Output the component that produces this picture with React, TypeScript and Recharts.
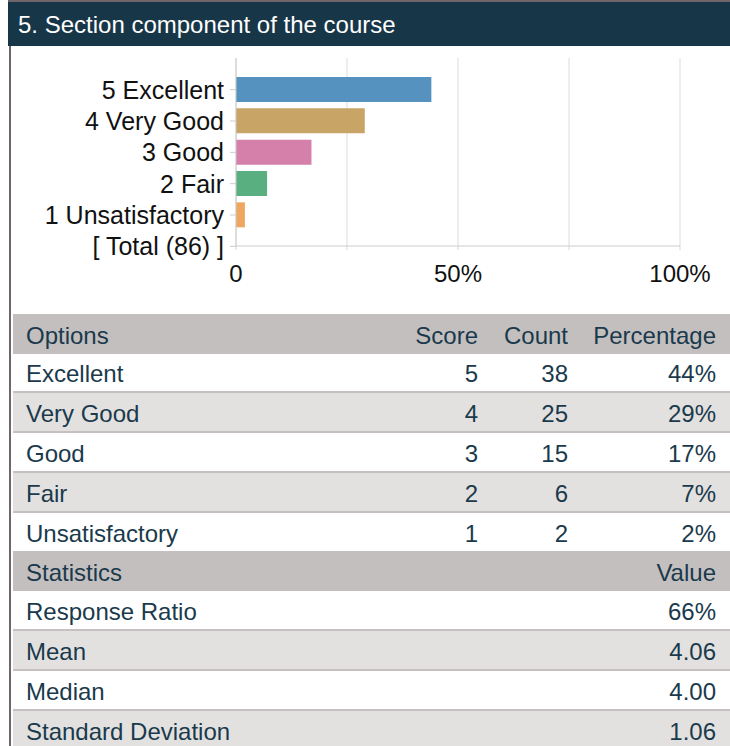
import React from "react";
import { BarChart, Bar, XAxis, YAxis, CartesianGrid, Cell } from "recharts";

const categories = ["5 Excellent", "4 Very Good", "3 Good", "2 Fair", "1 Unsatisfactory", "[ Total (86) ]"];
const percentages: (number | null)[] = [44, 29, 17, 7, 2, null];
const barColors = ["#5592bf", "#c8a566", "#d580ab", "#5aaf80", "#eea660"];
const xTicks = [0, 25, 50, 75, 100];

const options = ["Excellent", "Very Good", "Good", "Fair", "Unsatisfactory"];
const scores = [5, 4, 3, 2, 1];
const counts = [38, 25, 15, 6, 2];
const pctLabels = ["44%", "29%", "17%", "7%", "2%"];
const statNames = ["Response Ratio", "Mean", "Median", "Standard Deviation"];
const statValues = ["66%", "4.06", "4.00", "1.06"];

const FONT = "Arial, 'Liberation Sans', sans-serif";
const TEXT = "#1a3a4c";
const HEAD_BG = "#c4bfbf";
const ALT_BG = "#e3e1e0";

const chartData = categories.map((label, i) => ({ label, pct: percentages[i] }));

const cols = "375px 90px 90px 148px";

// first row after a header is a px shorter, matching the source table
function rowStyle(i: number, head = false, firstH = 38): React.CSSProperties {
  const h = head ? 40 : i === 0 ? firstH : 38;
  return {
    display: "grid",
    gridTemplateColumns: cols,
    paddingRight: 14,
    height: h,
    lineHeight: `${h + 3}px`,
    overflow: "hidden",
    background: head ? HEAD_BG : i % 2 === 1 ? ALT_BG : "#fff",
    borderTop: !head && i > 0 ? "2px solid #c6c0c0" : "none",
  };
}

export default function App() {
  return (
    <div style={{ position: "absolute", left: 0, top: 0, width: 730, height: 746, overflow: "hidden", fontFamily: FONT, background: "#fff" }}>
      <div style={{ position: "absolute", left: 8, top: 0, width: 722, height: 2, background: "#6e6668" }} />
      <div style={{ position: "absolute", left: 8, top: 2, width: 712, height: 44, paddingLeft: 10, background: "#173648", color: "#fff", fontSize: 24, lineHeight: "46px" }}>
        5. Section component of the course
      </div>
      <div style={{ position: "absolute", left: 9, top: 46, width: 2, height: 700, background: "#6e6668" }} />

      <div style={{ position: "absolute", left: 0, top: 46 }}>
        <BarChart layout="vertical" width={730} height={240} data={chartData} margin={{ top: 12, right: 50, bottom: 0, left: 0 }} barSize={25}>
          <CartesianGrid horizontal={false} stroke="#dcdcdc" />
          <XAxis
            type="number"
            domain={[0, 100]}
            ticks={xTicks}
            interval={0}
            tickFormatter={(v: number) => (v === 0 ? "0" : v % 50 === 0 ? `${v}%` : "")}
            axisLine={{ stroke: "#cccccc" }}
            tickLine={{ stroke: "#d6d6d6" }}
            tickSize={4}
            tickMargin={15}
            height={40}
            tick={{ fill: "#111", fontSize: 24, fontFamily: FONT }}
          />
          <YAxis
            type="category"
            dataKey="label"
            width={236}
            interval={0}
            tickSize={6}
            tickMargin={6}
            padding={{ top: 16, bottom: -16 }}
            axisLine={{ stroke: "#cccccc" }}
            tickLine={{ stroke: "#cccccc" }}
            tick={{ fill: "#111", fontSize: 25, fontFamily: FONT }}
          />
          <Bar dataKey="pct" isAnimationActive={false}>
            {chartData.map((_, i) => (
              <Cell key={i} fill={barColors[i % barColors.length]} />
            ))}
          </Bar>
        </BarChart>
      </div>

      <div style={{ position: "absolute", left: 13, top: 314, width: 717, color: TEXT, fontSize: 24 }}>
        <div style={rowStyle(0, true)}>
          <span style={{ paddingLeft: 13 }}>Options</span>
          <span style={{ textAlign: "right" }}>Score</span>
          <span style={{ textAlign: "right" }}>Count</span>
          <span style={{ textAlign: "right" }}>Percentage</span>
        </div>
        {options.map((o, i) => (
          <div key={o} style={rowStyle(i, false, 37)}>
            <span style={{ paddingLeft: 13 }}>{o}</span>
            <span style={{ textAlign: "right" }}>{scores[i]}</span>
            <span style={{ textAlign: "right" }}>{counts[i]}</span>
            <span style={{ textAlign: "right" }}>{pctLabels[i]}</span>
          </div>
        ))}
        <div style={rowStyle(0, true)}>
          <span style={{ paddingLeft: 13, gridColumn: "1 / 3" }}>Statistics</span>
          <span style={{ textAlign: "right", gridColumn: "3 / 5" }}>Value</span>
        </div>
        {statNames.map((s, i) => (
          <div key={s} style={rowStyle(i)}>
            <span style={{ paddingLeft: 13, gridColumn: "1 / 3" }}>{s}</span>
            <span style={{ textAlign: "right", gridColumn: "3 / 5" }}>{statValues[i]}</span>
          </div>
        ))}
      </div>
    </div>
  );
}
